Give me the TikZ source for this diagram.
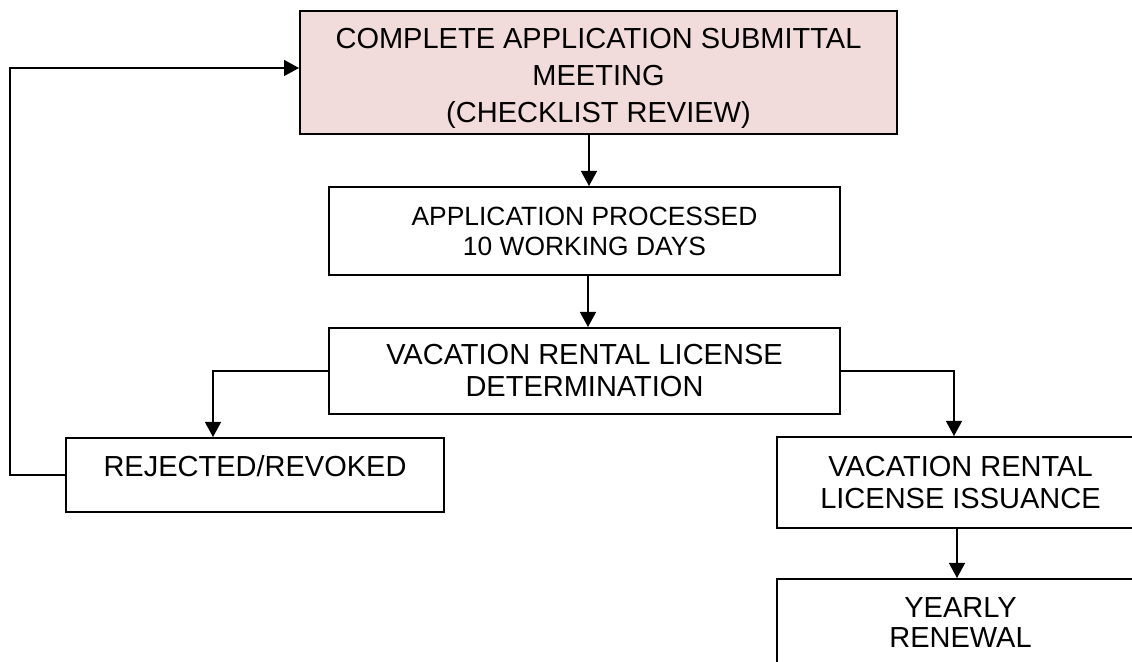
\documentclass[tikz,border=0pt]{standalone}
\usepackage{fontspec}
\setmainfont{Liberation Sans}
\usetikzlibrary{arrows.meta}
\definecolor{pinkfill}{HTML}{F2DCDB}
\tikzset{
  box/.style={draw=black, line width=1pt, rectangle, inner sep=0pt, align=center, text=black},
  conn/.style={draw=black, line width=0.7pt},
  arr/.style={conn, -{Triangle[length=7.5pt,width=8pt]}},
}
\begin{document}
\begin{tikzpicture}[x=0.5pt,y=-0.5pt]
\useasboundingbox (0,0) rectangle (1132,662);
\clip (0,0) rectangle (1132,662);
\fill[white] (0,0) rectangle (1132,662);

\node[box, fill=pinkfill, minimum width=298.5pt, minimum height=61.5pt,
      font=\fontsize{14.5}{18.5}\selectfont] (b1) at (598.5,72.5)
  {\rule{0pt}{16.4pt}COMPLETE APPLICATION SUBMITTAL\\MEETING\\(CHECKLIST REVIEW)};

\node[box, minimum width=255.5pt, minimum height=44pt,
      font=\fontsize{13.2}{15}\selectfont] (b2) at (584.5,231)
  {APPLICATION PROCESSED\\10 WORKING DAYS};

\node[box, minimum width=255.5pt, minimum height=43pt,
      font=\fontsize{14.5}{16}\selectfont] (b3) at (584.5,371)
  {VACATION RENTAL LICENSE\\DETERMINATION};

\node[box, minimum width=189pt, minimum height=37pt, text height=10.4pt, text depth=9pt,
      font=\fontsize{14.5}{16}\selectfont] (b4) at (255,475)
  {REJECTED/REVOKED};

\node[box, minimum width=183.5pt, minimum height=45.5pt,
      font=\fontsize{14.5}{16}\selectfont] (b5) at (960.5,482.5)
  {VACATION RENTAL\\LICENSE ISSUANCE};

\node[box, minimum width=184pt, minimum height=44pt,
      font=\fontsize{14.5}{15}\selectfont] (b6) at (960.5,623)
  {YEARLY\\RENEWAL};

\coordinate (fb) at (10,476);

\draw[arr] ([xshift=-4.75pt]b1.south) -- ([xshift=2.25pt]b2.north);
\draw[arr] ([xshift=1.75pt]b2.south) -- ([xshift=1.75pt]b3.north);
\draw[arr] (b3.west) -| ([xshift=-21pt]b4.north);
\draw[arr] (b3.east) -| ([xshift=-3.25pt]b5.north);
\draw[arr] ([xshift=-1.75pt]b5.south) -- ([xshift=-1.75pt]b6.north);
\draw[arr] (b4.west) -- (b4.west -| fb) |- ([yshift=2.25pt]b1.west);
\end{tikzpicture}
\end{document}
